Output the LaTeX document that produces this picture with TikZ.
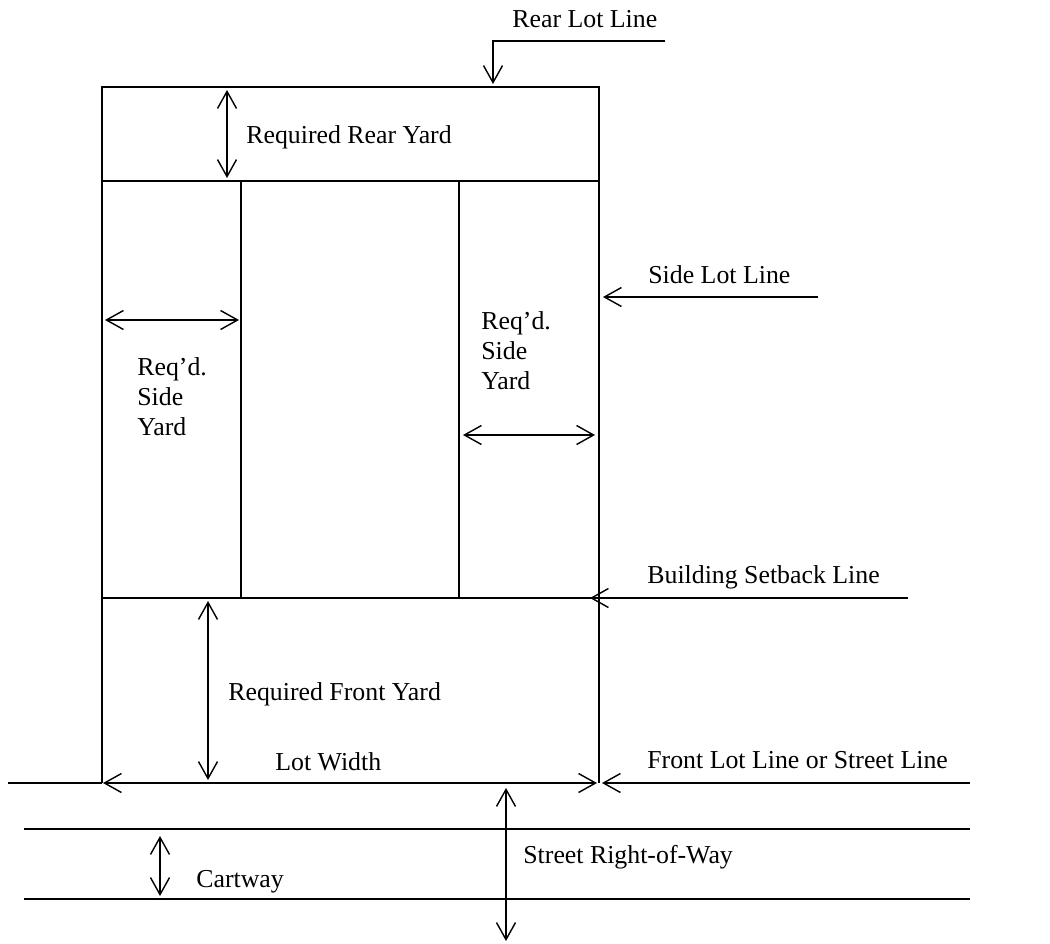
\documentclass[tikz,border=0pt]{standalone}
\usepackage{fontspec}
\setmainfont{Liberation Serif}
\usetikzlibrary{arrows.meta}
\newcommand{\lotfont}{\fontsize{14.7}{17}\selectfont}

\begin{document}
\begin{tikzpicture}[
    x=0.02cm, y=-0.02cm,
    ln/.style={line width=0.8pt},
    barb/.tip={Straight Barb[length=3.4mm, width=3.8mm, line width=0.8pt]},
    dim/.style={ln, barb-barb},
    ptr/.style={ln, -barb},
    lbl/.style={anchor=base west, inner sep=0pt, font=\lotfont, align=left}
]
\useasboundingbox (0,0) rectangle (1050,943);

% lot corners and yard lines
\coordinate (nw) at (102,87);
\coordinate (ne) at (599,87);
\coordinate (rw) at (102,181);
\coordinate (re) at (599,181);
\coordinate (bw) at (102,598);
\coordinate (be) at (599,598);
\coordinate (sw) at (102,783);
\coordinate (se) at (599,783);

\draw[ln] (sw) -- (nw) -- (ne) -- (se);
\draw[ln] (rw) -- (re);
\draw[ln] (bw) -- (be);
\draw[ln] (241,181) -- (241,598);
\draw[ln] (459,181) -- (459,598);

% street lines
\draw[ln] (8,783) -- (102,783);
\draw[ln] (24,829) -- (970,829);
\draw[ln] (24,899) -- (970,899);

% labels (multi-line ones sit on their last line)
\node[lbl] (rearlot) at (512,28) {Rear Lot Line};
\node[lbl] (rearyd) at (246,143) {Required Rear Yard};
\node[lbl] (sidelot) at (648,283) {Side Lot Line};
\node[lbl] (sideL) at (137,435) {Req'd.\\Side\\Yard};
\node[lbl] (sideR) at (481,389) {Req'd.\\Side\\Yard};
\node[lbl] (setback) at (647,583) {Building Setback Line};
\node[lbl] (frontyd) at (228,700) {Required Front Yard};
\node[lbl] (lotw) at (275,770) {Lot Width};
\node[lbl] (frontlot) at (647,768) {Front Lot Line or Street Line};
\node[lbl] (row) at (523,863) {Street Right-of-Way};
\node[lbl] (cartway) at (196,887) {Cartway};

% pointers
\coordinate (rlA) at (665,41);
\coordinate (rlB) at (493,41);
\coordinate (rlC) at (493,84);
\draw[ptr] (rlA) -- (rlB) -- (rlC);
\draw[ptr] (818,297) -- (603,297);
\draw[ptr] (908,598) -- (590,598);
\draw[ptr] (970,783) -- (602,783);

% dimensions
\draw[dim] (227,90) -- (227,178);
\draw[dim] (105,320) -- (239,320);
\draw[dim] (463,435) -- (595,435);
\draw[dim] (208,601) -- (208,780);
\draw[dim] (103,783) -- (597,783);
\draw[dim] (506,788) -- (506,941);
\draw[dim] (160,836) -- (160,896);
\end{tikzpicture}
\end{document}
